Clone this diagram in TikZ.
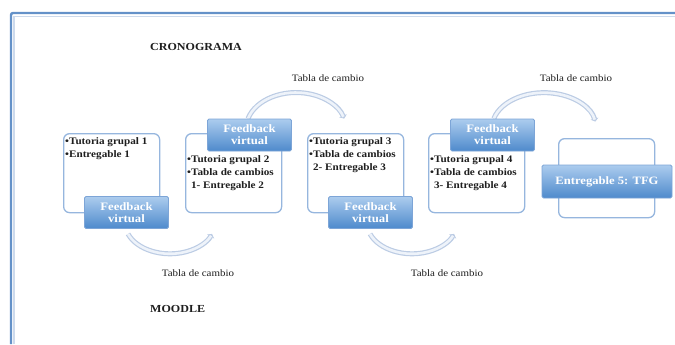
\documentclass[tikz,border=0pt]{standalone}
\usepackage{fontspec}
\setmainfont{Liberation Serif}[FakeStretch=1.12]
\usetikzlibrary{calc,arrows.meta}
\pgfdeclarelayer{bg}\pgfsetlayers{bg,main}
\definecolor{framec}{RGB}{100,145,200}
\definecolor{frameshade}{RGB}{205,218,236}
\definecolor{boxedge}{RGB}{150,182,222}
\definecolor{fbtop}{RGB}{172,204,238}
\definecolor{fbbot}{RGB}{78,138,204}
\definecolor{fbedge}{RGB}{125,165,215}
\definecolor{arcedge}{RGB}{188,204,228}
\definecolor{arcfill}{RGB}{238,243,250}
\definecolor{txt}{RGB}{30,30,30}
\tikzset{
  wbox/.style={draw=boxedge, line width=1.3bp, fill=white, rounded corners=6bp,
    minimum width=96bp, minimum height=79bp, anchor=north west, inner sep=0pt},
  fbbox/.style={draw=fbedge, line width=0.8bp, top color=fbtop, bottom color=fbbot,
    rounded corners=1.5bp, minimum width=84bp, minimum height=32bp, inner sep=0pt,
    text=white, font=\fontsize{11.4}{11.8}\selectfont\bfseries, align=center},
  btext/.style={anchor=north west, inner sep=0pt, text=txt, align=left,
    font=\fontsize{10}{13}\selectfont\bfseries},
  lbl/.style={text=txt, inner sep=0pt, font=\fontsize{9.8}{11}\selectfont},
  ttl/.style={text=txt, inner sep=0pt, anchor=west, font=\fontsize{10.8}{13}\selectfont\bfseries},
  arcout/.style={draw=arcedge, line width=5bp, -{Triangle[length=3bp,width=8bp]}},
  arcin/.style={draw=arcfill, line width=2.6bp, shorten >=2bp},
}
\newcommand{\hang}{\phantom{\textbullet}}
\begin{document}
\begin{tikzpicture}[x=1bp,y=-1bp]
\useasboundingbox (0,0) rectangle (675,344);
% frame
\draw[frameshade, line width=1.4bp] (13.8,344) -- (13.8,16.3) -- (675,16.3);
\draw[framec, line width=2.4bp, rounded corners=2bp] (11,344) -- (11,13) -- (675,13);

\node[ttl] (cron) at (150,47) {CRONOGRAMA};
\node[ttl] (moodle) at (150,309) {MOODLE};

% white boxes
\node[wbox] (box1) at (63,133) {};
\node[wbox] (box2) at (185,133) {};
\node[wbox] (box3) at (307,133) {};
\node[wbox] (box4) at (428,133) {};
\node[wbox] (box5) at (558,138) {};

% box texts
\node[btext] (t1) at (65,137) {\textbullet Tutoria grupal 1\\\textbullet Entregable 1};
\node[btext] (t2) at (187,155) {\textbullet Tutoria grupal 2\\\textbullet Tabla de cambios\\\hang 1- Entregable 2};
\node[btext] (t3) at (309,137) {\textbullet Tutoria grupal 3\\\textbullet Tabla de cambios\\\hang 2- Entregable 3};
\node[btext] (t4) at (430,155) {\textbullet Tutoria grupal 4\\\textbullet Tabla de cambios\\\hang 3- Entregable 4};

% feedback boxes
\node[fbbox] (fb1) at (126.5,212.5) {Feedback\\virtual};
\node[fbbox] (fb2) at (249.5,135) {Feedback\\virtual};
\node[fbbox] (fb3) at (370.5,212.5) {Feedback\\virtual};
\node[fbbox] (fb4) at (492.5,135) {Feedback\\virtual};
\node[fbbox, minimum width=130bp, minimum height=33bp,
  font=\fontsize{11.3}{12}\selectfont\bfseries] (e5) at (607,181.5) {Entregable 5: TFG};

% arc start coordinates (tied to the feedback boxes)
\coordinate (a1s) at ($(fb1.south)+(1.5,5)$);
\coordinate (a2s) at ($(fb2.north)+(-1.5,0)$);
\coordinate (a3s) at ($(fb3.south)+(-0.5,5)$);
\coordinate (a4s) at ($(fb4.north)+(1.3,0)$);

\begin{pgfonlayer}{bg}
\draw[arcout] (a1s) arc[start angle=159, end angle=21, x radius=45, y radius=31];
\draw[arcin]  (a1s) arc[start angle=159, end angle=21, x radius=45, y radius=31];
\draw[arcout] (a2s) arc[start angle=-164, end angle=-16, x radius=50, y radius=36];
\draw[arcin]  (a2s) arc[start angle=-164, end angle=-16, x radius=50, y radius=36];
\draw[arcout] (a3s) arc[start angle=159, end angle=21, x radius=45, y radius=31];
\draw[arcin]  (a3s) arc[start angle=159, end angle=21, x radius=45, y radius=31];
\draw[arcout] (a4s) arc[start angle=-165, end angle=-10, x radius=52, y radius=35];
\draw[arcin]  (a4s) arc[start angle=-165, end angle=-10, x radius=52, y radius=35];
\end{pgfonlayer}

% labels
\node[lbl] (l1) at (328,78) {Tabla de cambio};
\node[lbl] (l2) at (576,78) {Tabla de cambio};
\node[lbl] (l3) at (198,273) {Tabla de cambio};
\node[lbl] (l4) at (447,273) {Tabla de cambio};
\end{tikzpicture}
\end{document}
